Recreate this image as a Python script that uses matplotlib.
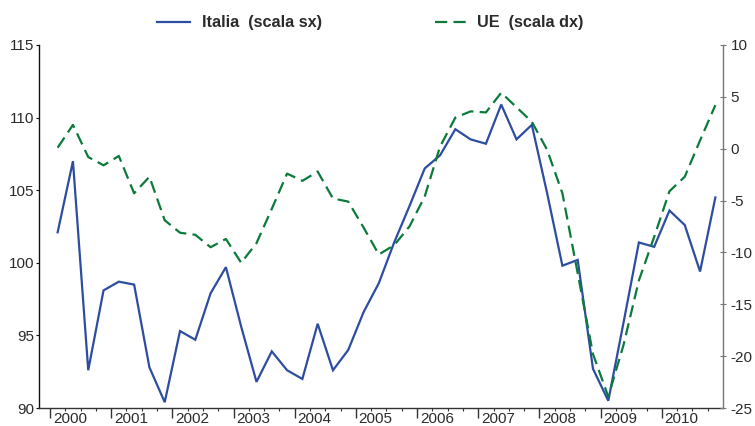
# 导入第三方库模块
import numpy as np
import matplotlib
matplotlib.use('Agg')
from matplotlib import pyplot as plt
from matplotlib import transforms as mtransforms
from matplotlib.ticker import FixedLocator, NullFormatter


# 年份与季度
ANNI = list(range(2000, 2011))
TRIMESTRI = [1, 2, 3, 4]

# 意大利指数（左轴）
ITALIA = [
    102.1, 107.0, 92.6, 98.1,
    98.7, 98.5, 92.8, 90.4,
    95.3, 94.7, 97.9, 99.7,
    95.6, 91.8, 93.9, 92.6,
    92.0, 95.8, 92.6, 94.0,
    96.6, 98.6, 101.4, 103.9,
    106.5, 107.4, 109.2, 108.5,
    108.2, 110.9, 108.5, 109.5,
    104.8, 99.8, 100.2, 92.7,
    90.5, 95.9, 101.4, 101.1,
    103.6, 102.6, 99.4, 104.5,
]

# 欧盟指数（右轴）
UE = [
    0.1, 2.3, -0.8, -1.6,
    -0.7, -4.3, -2.7, -6.9,
    -8.1, -8.3, -9.5, -8.7,
    -11.0, -9.1, -5.8, -2.4,
    -3.1, -2.2, -4.8, -5.1,
    -7.6, -10.2, -9.3, -7.5,
    -4.6, 0.2, 3.0, 3.6,
    3.5, 5.4, 4.0, 2.6,
    -0.1, -4.3, -12.0, -19.8,
    -23.9, -18.9, -12.7, -8.5,
    -4.1, -2.7, 0.8, 4.2,
]

# 坐标轴刻度
TICK_SX = [90, 95, 100, 105, 110, 115]
TICK_DX = [-25, -20, -15, -10, -5, 0, 5, 10]

# 图例文字
LABEL_IT = 'Italia  (scala sx)'
LABEL_UE = 'UE  (scala dx)'

# 颜色
BLU = '#2C4DA0'
VERDE = '#0B7A3B'
TESTO = '#2B2B2B'


# 全局字体
plt.rcParams['font.family'] = ['Liberation Sans', 'DejaVu Sans']
plt.rcParams['font.size'] = 11
plt.rcParams['axes.unicode_minus'] = False

# 季度中点位置
x = np.array([a + (q - 0.5) / 4 for a in ANNI for q in TRIMESTRI])

# 创建画布
fig = plt.figure(figsize = (7.55, 4.26), dpi = 100)
ax = fig.add_axes([39 / 755, 1 - 408 / 426, 684 / 755, 363 / 426])
ax2 = ax.twinx()

# 绘制意大利曲线
ax.plot(x, ITALIA, color = BLU, lw = 1.6, solid_joinstyle = 'miter')

# 绘制欧盟曲线
ax2.plot(
    x, UE, color = VERDE, lw = 1.6,
    dashes = (5.5, 2.8), dash_capstyle = 'butt'
)

# 坐标范围
ax.set_xlim(2000 - 11 / 61.2, 2011)
ax.set_ylim(90, 115)
ax2.set_ylim(-25, 10)

# 边框
for side in ['top', 'right']:
    ax.spines[side].set_visible(False)
for side in ['top', 'left', 'bottom']:
    ax2.spines[side].set_visible(False)
ax.spines['left'].set_color('#111111')
ax.spines['bottom'].set_color('#333333')
ax2.spines['right'].set_color('#777777')
ax.spines['left'].set_linewidth(1.0)
ax.spines['bottom'].set_linewidth(1.0)
ax2.spines['right'].set_linewidth(1.0)

# 横轴刻度：年份为主刻度，季度为次刻度
ax.xaxis.set_major_locator(FixedLocator(ANNI))
ax.xaxis.set_minor_locator(FixedLocator(
    [a + q / 4 for a in ANNI for q in [1, 2, 3]]
))
ax.xaxis.set_minor_formatter(NullFormatter())
ax.set_xticks(ANNI)
ax.set_xticklabels([str(a) for a in ANNI])
ax.tick_params(
    axis = 'x', which = 'major', direction = 'out', length = 7,
    width = 1, color = '#333333', pad = -4, labelcolor = TESTO
)
ax.tick_params(
    axis = 'x', which = 'minor', direction = 'out', length = 2.5,
    width = 0.8, color = '#333333'
)
offset = mtransforms.ScaledTranslation(2 / 72, 0, fig.dpi_scale_trans)
for lab in ax.get_xticklabels():
    lab.set_horizontalalignment('left')
    lab.set_transform(lab.get_transform() + offset)

# 左纵轴刻度
ax.set_yticks(TICK_SX)
ax.tick_params(
    axis = 'y', direction = 'out', length = 2, width = 0.8,
    color = '#111111', pad = 1.5, labelcolor = TESTO
)

# 右纵轴刻度
ax2.set_yticks(TICK_DX)
ax2.tick_params(
    axis = 'y', direction = 'inout', length = 5, width = 0.8,
    color = '#777777', pad = 3, labelcolor = TESTO
)

# 图例
y_leg = 1 - 22 / 426
fig.add_artist(plt.Line2D(
    [157 / 755, 190 / 755], [y_leg, y_leg],
    color = BLU, lw = 1.6, transform = fig.transFigure
))
fig.text(
    202 / 755, y_leg, LABEL_IT, fontweight = 'bold',
    color = TESTO, va = 'center', ha = 'left', fontsize = 11.7
)
fig.add_artist(plt.Line2D(
    [435 / 755, 470 / 755], [y_leg, y_leg],
    color = VERDE, lw = 1.6, dashes = (5.5, 2.8),
    transform = fig.transFigure
))
fig.text(
    477 / 755, y_leg, LABEL_UE, fontweight = 'bold',
    color = TESTO, va = 'center', ha = 'left', fontsize = 11.7
)

# 保存图像
fig.savefig('out.png', dpi = 100)
